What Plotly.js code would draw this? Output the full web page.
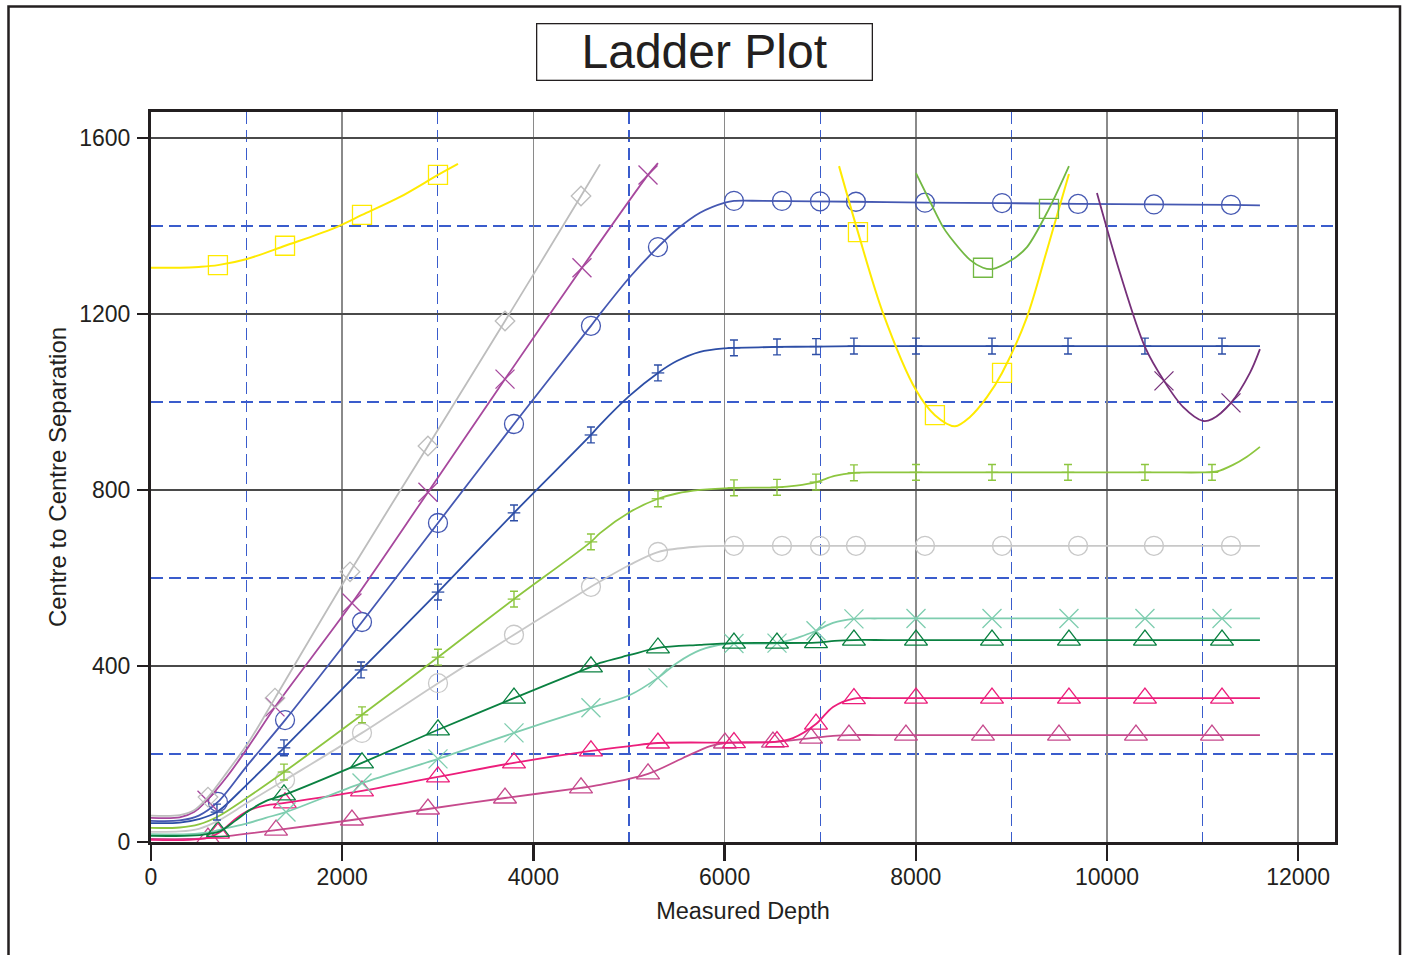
<!DOCTYPE html>
<html>
<head>
<meta charset="utf-8">
<script src="https://cdn.plot.ly/plotly-3.0.1.min.js"></script>
<style>
html,body{margin:0;padding:0;background:#fff;}
#chart{width:1402px;height:955px;}
</style>
</head>
<body>
<div id="chart"></div>
<script>
// ---------- data ----------
const xTickVals = [0, 2000, 4000, 6000, 8000, 10000, 12000];
const xTickText = ['0', '2000', '4000', '6000', '8000', '10000', '12000'];
const yTickVals = [0, 400, 800, 1200, 1600];
const yTickText = ['0', '400', '800', '1200', '1600'];

// 1 light grey, diamonds
const greyDiaLineX = [0, 300, 450, 596, 800, 1036, 1297, 2082, 2897, 3703, 4498, 4697];
const greyDiaLineY = [60, 61, 72, 102, 160, 232, 327, 614, 900, 1184, 1468, 1540];
const greyDiaMarkX = [596, 1297, 2082, 2897, 3703, 4498];
const greyDiaMarkY = [102, 327, 614, 900, 1184, 1468];

// 2 magenta, crosses
const magXLineX = [0, 300, 450, 586, 800, 1036, 1297, 2102, 2897, 3703, 4508, 5199, 5303];
const magXLineY = [55, 56, 68, 95, 150, 222, 307, 543, 795, 1052, 1305, 1516, 1543];
const magXMarkX = [586, 1297, 2102, 2897, 3703, 4508, 5199];
const magXMarkY = [95, 307, 543, 795, 1052, 1305, 1516];

// 3 blue, circles
const blueCirLineX = [0, 300, 500, 700, 1000, 1402, 2207, 3002, 3797, 4602, 4697, 5010, 5303, 5500, 5743, 6004, 6098, 6400, 7374, 8096, 8902, 9697, 10491, 11297, 11600];
const blueCirLineY = [48, 49, 60, 91, 172, 277, 500, 725, 950, 1173, 1200, 1284, 1352, 1392, 1430, 1453, 1457, 1457, 1455, 1453, 1452, 1450, 1449, 1448, 1447];
const blueCirMarkX = [700, 1402, 2207, 3002, 3797, 4602, 5303, 6098, 6600, 6998, 7374, 8096, 8902, 9697, 10491, 11297];
const blueCirMarkY = [91, 277, 500, 725, 950, 1173, 1352, 1457, 1457, 1456, 1455, 1453, 1452, 1450, 1449, 1448];

// 4 dark blue, double-bar markers
const dkBlueLineX = [0, 300, 500, 690, 1000, 1391, 2197, 3002, 3797, 4602, 4697, 5010, 5303, 5500, 5743, 6004, 6098, 6548, 6956, 7353, 7800, 9000, 10500, 11600];
const dkBlueLineY = [43, 44, 52, 68, 130, 214, 391, 568, 748, 925, 948, 1015, 1066, 1093, 1114, 1122, 1123, 1125, 1126, 1127, 1127, 1127, 1127, 1127];
const dkBlueMarkX = [690, 1391, 2197, 3002, 3797, 4602, 5303, 6098, 6548, 6956, 7353, 8002, 8797, 9592, 10397, 11203];
const dkBlueMarkY = [68, 214, 391, 568, 748, 925, 1066, 1123, 1125, 1126, 1127, 1127, 1127, 1127, 1127, 1127];

// 5 light green, double-bar markers
const ltGreenLineX = [0, 300, 500, 700, 1000, 1391, 2207, 3002, 3797, 4602, 4697, 5010, 5303, 5500, 5743, 6098, 6548, 6750, 6956, 7150, 7353, 7600, 8200, 9500, 10600, 11000, 11150, 11318, 11460, 11600];
const ltGreenLineY = [32, 33, 40, 58, 100, 159, 289, 420, 552, 682, 702, 750, 780, 792, 800, 805, 806, 810, 818, 832, 839, 840, 840, 840, 840, 840, 842, 857, 875, 898];
const ltGreenMarkX = [1391, 2207, 3002, 3797, 4602, 5303, 6098, 6548, 6956, 7353, 8002, 8797, 9592, 10397, 11098];
const ltGreenMarkY = [159, 289, 420, 552, 682, 780, 805, 806, 818, 839, 840, 840, 840, 840, 840];

// 6 light grey, circles
const ltGreyCirLineX = [0, 300, 500, 700, 1000, 1402, 2207, 3002, 3797, 4602, 4697, 5010, 5303, 5700, 6098, 6500, 7500, 9000, 10500, 11600];
const ltGreyCirLineY = [23, 24, 30, 48, 88, 141, 248, 361, 471, 580, 592, 630, 659, 671, 673, 673, 673, 673, 673, 673];
const ltGreyCirMarkX = [1402, 2207, 3002, 3797, 4602, 5303, 6098, 6600, 6998, 7374, 8096, 8902, 9697, 10491, 11297];
const ltGreyCirMarkY = [141, 248, 361, 471, 580, 659, 673, 673, 673, 673, 673, 673, 673, 673, 673];

// 7 dark green, triangles
const dkGreenLineX = [0, 350, 550, 720, 880, 1036, 1200, 1391, 2207, 3002, 3797, 4602, 4697, 5010, 5303, 5743, 6098, 6956, 7150, 7353, 7700, 8500, 10000, 11600];
const dkGreenLineY = [14, 14, 17, 24, 48, 73, 93, 107, 180, 255, 327, 398, 407, 425, 441, 448, 452, 453, 457, 459, 459, 459, 459, 459];
const dkGreenMarkX = [700, 1391, 2207, 3002, 3797, 4602, 5303, 6098, 6548, 6956, 7353, 8002, 8797, 9602, 10397, 11203];
const dkGreenMarkY = [24, 107, 180, 255, 327, 398, 441, 452, 452, 453, 459, 459, 459, 459, 459, 459];

// 8 mint, crosses
const mintLineX = [0, 400, 600, 800, 1000, 1200, 1412, 2207, 3002, 3797, 4602, 4697, 5010, 5303, 5502, 5743, 6004, 6548, 6789, 6956, 7134, 7353, 7600, 8300, 9800, 11600];
const mintLineY = [18, 18, 22, 32, 42, 55, 68, 134, 189, 248, 305, 311, 334, 373, 407, 436, 450, 452, 466, 480, 498, 507, 508, 508, 508, 508];
const mintMarkX = [1412, 2207, 3002, 3797, 4602, 5303, 6098, 6548, 6956, 7353, 8002, 8797, 9602, 10397, 11203];
const mintMarkY = [68, 134, 189, 248, 305, 373, 451, 452, 480, 507, 508, 508, 508, 508, 508];

// 9 hot pink, triangles
const pinkLineX = [0, 400, 600, 720, 880, 1036, 1200, 1402, 2207, 3002, 3797, 4602, 5010, 5303, 6098, 6548, 6715, 6956, 7134, 7353, 7550, 8200, 9800, 11600];
const pinkLineY = [5, 5, 10, 22, 52, 73, 83, 89, 116, 148, 180, 207, 218, 225, 226, 228, 236, 268, 307, 326, 327, 327, 327, 327];
const pinkMarkX = [700, 1402, 2207, 3002, 3797, 4602, 5303, 6098, 6548, 6956, 7353, 8002, 8797, 9602, 10397, 11203];
const pinkMarkY = [20, 89, 116, 148, 180, 207, 225, 226, 228, 268, 326, 327, 327, 327, 327, 327];

// 10 raspberry, triangles
const raspLineX = [0, 400, 596, 1308, 2102, 2897, 3703, 4498, 4697, 5199, 5565, 5850, 6004, 6506, 6904, 7134, 7301, 7600, 8400, 10000, 11600];
const raspLineY = [7, 7, 9, 27, 50, 75, 100, 123, 130, 155, 191, 218, 225, 227, 236, 241, 243, 243, 243, 243, 243];
const raspMarkX = [596, 1308, 2102, 2897, 3703, 4498, 5199, 6004, 6506, 6904, 7301, 7897, 8703, 9498, 10303, 11098];
const raspMarkY = [9, 27, 50, 75, 100, 123, 155, 225, 227, 236, 243, 243, 243, 243, 243, 243];

// 11 yellow, squares (two arcs)
const yellowLeftX = [0, 303, 500, 700, 1004, 1402, 1904, 2207, 2605, 3002, 3211];
const yellowLeftY = [1305, 1305, 1307, 1311, 1325, 1355, 1394, 1425, 1466, 1516, 1541];
const yellowRightX = [7197, 7395, 7657, 8002, 8200, 8410, 8567, 8744, 8902, 9163, 9372, 9602];
const yellowRightY = [1536, 1386, 1202, 1027, 970, 945, 966, 1011, 1066, 1193, 1345, 1518];
const yellowMarkX = [700, 1402, 2207, 3002, 7395, 8200, 8902];
const yellowMarkY = [1311, 1355, 1425, 1516, 1386, 970, 1066];

// 12 green, squares
const greenSqLineX = [8002, 8150, 8284, 8358, 8567, 8703, 8797, 9006, 9163, 9393, 9602];
const greenSqLineY = [1520, 1455, 1398, 1375, 1323, 1305, 1302, 1323, 1352, 1439, 1536];
const greenSqMarkX = [8703, 9393];
const greenSqMarkY = [1305, 1439];

// 13 dark purple, crosses
const purpleLineX = [9895, 10136, 10397, 10596, 10795, 11004, 11098, 11297, 11495, 11600];
const purpleLineY = [1475, 1293, 1125, 1048, 989, 957, 961, 998, 1066, 1120];
const purpleMarkX = [10596, 11297];
const purpleMarkY = [1048, 998];

// ---------- build traces ----------
const traces = [];
function addLine(x, y, color, w) {
  traces.push({x: x, y: y, type: 'scatter', mode: 'lines', hoverinfo: 'skip',
    line: {color: color, width: w || 1.8, shape: 'spline', smoothing: 0.9}});
}
function addMarks(x, y, color, symbol, size) {
  traces.push({x: x, y: y, type: 'scatter', mode: 'markers', hoverinfo: 'skip',
    marker: {color: color, symbol: symbol, size: size, line: {color: color, width: 1.3}}});
}
function addBars(x, y, color) {
  traces.push({x: x, y: y, type: 'scatter', mode: 'markers', hoverinfo: 'skip',
    marker: {color: color, symbol: 'line-ew-open', size: 9, line: {color: color, width: 1.3}},
    error_y: {type: 'constant', value: 18, width: 4, thickness: 1.4, color: color}});
}

const C = {
  greyDia: '#bdbdbd', mag: '#a7489d', blue: '#4558b2', dkBlue: '#2d4ea6',
  ltGreen: '#8dc63f', ltGrey: '#c8c8c8', dkGreen: '#0a8141', mint: '#7ecdaf',
  pink: '#ec1e7b', rasp: '#c64a8d', yellow: '#ffea00', greenSq: '#72b843', purple: '#76307a'
};

addLine(raspLineX, raspLineY, C.rasp);
addMarks(raspMarkX, raspMarkY, C.rasp, 'triangle-up-open', 20);
addLine(pinkLineX, pinkLineY, C.pink);
addMarks(pinkMarkX, pinkMarkY, C.pink, 'triangle-up-open', 20);
addLine(mintLineX, mintLineY, C.mint);
addMarks(mintMarkX, mintMarkY, C.mint, 'x-thin-open', 19);
addLine(dkGreenLineX, dkGreenLineY, C.dkGreen);
addMarks(dkGreenMarkX, dkGreenMarkY, C.dkGreen, 'triangle-up-open', 20);
addLine(ltGreyCirLineX, ltGreyCirLineY, C.ltGrey);
addMarks(ltGreyCirMarkX, ltGreyCirMarkY, C.ltGrey, 'circle-open', 19);
addLine(ltGreenLineX, ltGreenLineY, C.ltGreen);
addBars(ltGreenMarkX, ltGreenMarkY, C.ltGreen);
addLine(dkBlueLineX, dkBlueLineY, C.dkBlue);
addBars(dkBlueMarkX, dkBlueMarkY, C.dkBlue);
addLine(blueCirLineX, blueCirLineY, C.blue);
addMarks(blueCirMarkX, blueCirMarkY, C.blue, 'circle-open', 19);
addLine(magXLineX, magXLineY, C.mag);
addMarks(magXMarkX, magXMarkY, C.mag, 'x-thin-open', 19);
addLine(greyDiaLineX, greyDiaLineY, C.greyDia);
addMarks(greyDiaMarkX, greyDiaMarkY, C.greyDia, 'diamond-open', 15);
addLine(yellowLeftX, yellowLeftY, C.yellow, 2);
addLine(yellowRightX, yellowRightY, C.yellow, 2);
addMarks(yellowMarkX, yellowMarkY, C.yellow, 'square-open', 19);
addLine(greenSqLineX, greenSqLineY, C.greenSq);
addMarks(greenSqMarkX, greenSqMarkY, C.greenSq, 'square-open', 19);
addLine(purpleLineX, purpleLineY, C.purple);
addMarks(purpleMarkX, purpleMarkY, C.purple, 'x-thin-open', 19);

// ---------- layout ----------
const L = 151, R = 1335, T = 112, B = 842;
const px = v => (v - L) / (R - L);
const py = v => (B - v) / (B - T);
const font = 'Liberation Sans, Arial, sans-serif';

const layout = {
  width: 1402, height: 955,
  margin: {l: L, r: 1402 - R, t: T, b: 955 - B, pad: 0},
  paper_bgcolor: '#ffffff', plot_bgcolor: '#ffffff',
  showlegend: false,
  font: {family: font, color: '#231f20'},
  xaxis: {
    range: [0, 12385], tickvals: xTickVals, ticktext: xTickText, ticks: 'outside', ticklen: 16, tickwidth: 2.5, tickcolor: '#231f20',
    ticklabelstandoff: -4,
    showline: true, linewidth: 3, linecolor: '#231f20', mirror: true, zeroline: false,
    showgrid: true, gridcolor: '#8a8a8a', gridwidth: 1.5,
    minor: {dtick: 1000, showgrid: true, gridcolor: '#3a5ccc', gridwidth: 1.4, griddash: '12px,6px', ticks: ''},
    tickfont: {size: 23, family: font, color: '#231f20'},
    title: {text: 'Measured Depth', font: {size: 23.5, family: font, color: '#231f20'}, standoff: 14},
    automargin: false
  },
  yaxis: {
    range: [0, 1659], tickvals: yTickVals, ticktext: yTickText, ticks: 'outside', ticklen: 11, tickwidth: 2.5, tickcolor: '#231f20',
    ticklabelstandoff: 2,
    showline: true, linewidth: 3, linecolor: '#231f20', mirror: true, zeroline: false,
    showgrid: true, gridcolor: '#4a4a4a', gridwidth: 1.2,
    minor: {dtick: 200, showgrid: true, gridcolor: '#3a5ccc', gridwidth: 1.4, griddash: '12px,6px', ticks: ''},
    tickfont: {size: 23, family: font, color: '#231f20'},
    title: {text: 'Centre to Centre Separation', font: {size: 24, family: font, color: '#231f20'}, standoff: 6},
    automargin: false
  },
  shapes: [
    {type: 'rect', xref: 'paper', yref: 'paper', x0: px(8.5), x1: px(1400), y0: py(6.5), y1: py(975),
     line: {color: '#231f20', width: 2.5}, fillcolor: 'rgba(0,0,0,0)', layer: 'above'}
  ],
  annotations: [
    {xref: 'paper', yref: 'paper', x: px(704.5), y: py(51.5), xanchor: 'center', yanchor: 'middle',
     text: 'Ladder Plot', showarrow: false, width: 334, height: 55, borderpad: 0,
     bordercolor: '#231f20', borderwidth: 1.3, bgcolor: '#ffffff',
     font: {size: 48, family: font, color: '#231f20'}}
  ]
};

Plotly.newPlot('chart', traces, layout, {staticPlot: true, displayModeBar: false});
</script>
</body>
</html>
